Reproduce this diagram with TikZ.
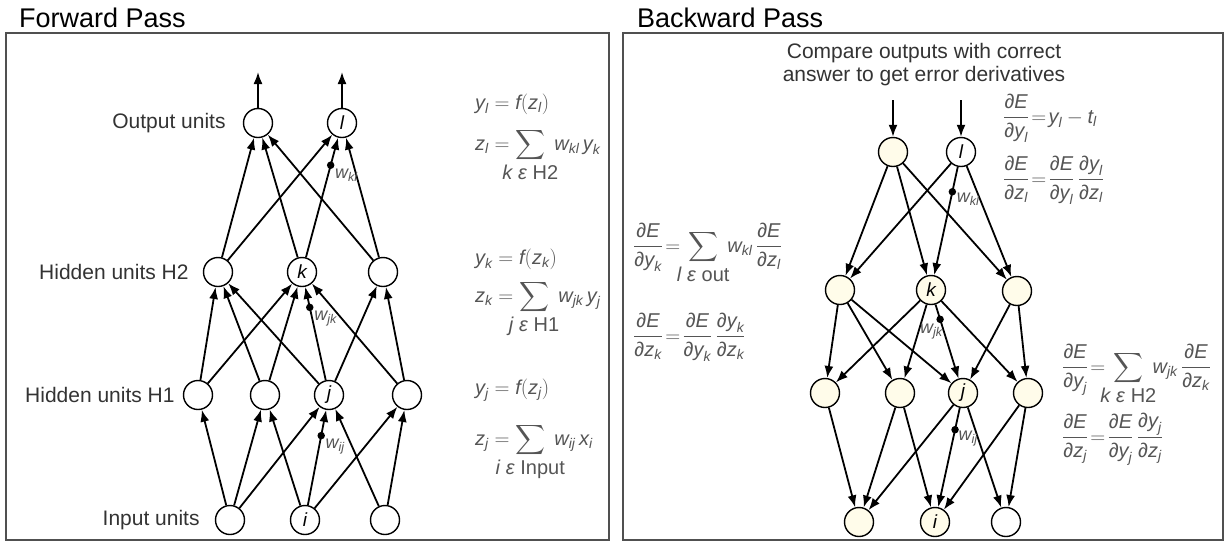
\documentclass[tikz,border=0pt]{standalone}
\usepackage{mathtools}
\usepackage{fontspec}
\setmainfont{Liberation Sans}
\usetikzlibrary{arrows.meta,positioning}
\definecolor{lblgrey}{HTML}{333333}
\definecolor{eqgrey}{HTML}{555555}
\definecolor{cream}{HTML}{FFFCEA}
\definecolor{framegrey}{HTML}{505050}
\newcommand\vv[1]{\textit{#1}}
\newcommand\pd{\textup{∂}}
\newcommand\sv[2]{\vv{#1}_{\vv{#2}}}
\newcommand\dE[2]{\dfrac{\pd\vv{E}}{\pd\sv{#1}{#2}}}
\newcommand\dyz[1]{\dfrac{\pd\sv{y}{#1}}{\pd\sv{z}{#1}}}
\newcommand\lsum[1]{\sum\limits_{\mathclap{\textstyle #1}}}
\newcommand\teq{\!=\!}
\begin{document}
\begin{tikzpicture}[x=1pt,y=-1pt,
  unit/.style={draw,circle,line width=1.4pt,minimum size=29pt,inner sep=0pt,fill=white,font=\fontsize{19}{22}\selectfont\itshape},
  bunit/.style={unit,fill=cream},
  arr/.style={-{Latex[length=12pt,width=9pt]},line width=1.8pt},
  lbl/.style={text=lblgrey,font=\fontsize{21}{23}\selectfont,inner sep=0pt},
  eq/.style={text=eqgrey,font=\fontsize{20}{24}\selectfont,anchor=base west,inner sep=0pt},
  title/.style={font=\fontsize{27}{30}\selectfont,anchor=base west,inner sep=0pt},
  wdot/.style={circle,fill=black,inner sep=0pt,minimum size=7.5pt},
  wlab/.style={text=eqgrey,font=\fontsize{18}{21}\selectfont,inner sep=0pt},
  frame/.style={draw=framegrey,line width=1.3pt}
]
\useasboundingbox (0,0) rectangle (1225,542);

\node[title] (tf) at (19,27) {Forward Pass};
\draw[frame] (6,33) rectangle (609,540);

\node[unit] (o1) at (258,123) {};
\node[unit] (ol) at (342,123) {l};
\node[unit] (h21) at (218,272) {};
\node[unit] (hk) at (302,272) {k};
\node[unit] (h23) at (383,272) {};
\node[unit] (h11) at (198,395) {};
\node[unit] (h12) at (265,395) {};
\node[unit] (hj) at (329,395) {j};
\node[unit] (h14) at (407,395) {};
\node[unit] (in1) at (230,520) {};
\node[unit] (ini) at (305,520) {i};
\node[unit] (in3) at (385,520) {};

\node[lbl,left=17pt of o1] (lout) {Output units};
\node[lbl,left=14pt of h21] (lh2) {Hidden units H2};
\node[lbl,left=8pt of h11] (lh1) {Hidden units H1};
\node[lbl,left=15pt of in1] (lin) {Input units};

\coordinate (u1) at (258,72); \coordinate (u2) at (342,72);
\draw[arr] (o1)--(u1); \draw[arr] (ol)--(u2);
\draw[arr] (h21)--(o1); \draw[arr] (h21)--(ol); \draw[arr] (hk)--(o1);
\draw[arr] (hk)-- node[wdot,pos=.77] (dkl) {} (ol); \draw[arr] (h23)--(o1); \draw[arr] (h23)--(ol);
\draw[arr] (h11)--(h21); \draw[arr] (h11)--(hk); \draw[arr] (h12)--(h21); \draw[arr] (h12)--(hk);
\draw[arr] (hj)--(h21); \draw[arr] (hj)-- node[wdot,pos=.78] (djk) {} (hk); \draw[arr] (hj)--(h23);
\draw[arr] (h14)--(hk); \draw[arr] (h14)--(h23);
\draw[arr] (in1)--(h11); \draw[arr] (in1)--(h12); \draw[arr] (in1)--(hj);
\draw[arr] (ini)--(h12); \draw[arr] (ini)-- node[wdot,pos=.73] (dij) {} (hj); \draw[arr] (ini)--(h14);
\draw[arr] (in3)--(hj); \draw[arr] (in3)--(h14);
\node[wlab,below right=0pt and 1pt of dkl] (wkl) {$\sv{w}{kl}$};
\node[wlab,below right=0pt and 1pt of djk] (wjk) {$\sv{w}{jk}$};
\node[wlab,below right=0pt and 1pt of dij] (wij) {$\sv{w}{ij}$};

\node[eq] (f1) at (475,109) {$\sv{y}{l} = \vv{f}(\sv{z}{l})$};
\node[eq] (f2) at (475,150) {$\displaystyle \sv{z}{l} = \lsum{\vv{k}\;\vv{ε}\;\textup{H2}}\; \sv{w}{kl}\,\sv{y}{k}$};
\node[eq] (f3) at (475,264) {$\sv{y}{k} = \vv{f}(\sv{z}{k})$};
\node[eq] (f4) at (475,302) {$\displaystyle \sv{z}{k} = \lsum{\vv{j}\;\vv{ε}\;\textup{H1}}\; \sv{w}{jk}\,\sv{y}{j}$};
\node[eq] (f5) at (475,394) {$\sv{y}{j} = \vv{f}(\sv{z}{j})$};
\node[eq] (f6) at (475,445) {$\displaystyle \sv{z}{j} = \lsum{\vv{i}\;\vv{ε}\;\textup{Input}}\; \sv{w}{ij}\,\sv{x}{i}$};

\node[title] (tb) at (637,27) {Backward Pass};
\draw[frame] (623,33) rectangle (1223,540);
\node[lbl,align=center] (cmp) at (924,65) {Compare outputs with correct\\answer to get error derivatives};

\node[bunit] (bo1) at (893,152) {};
\node[bunit,fill=white] (bol) at (961,152) {l};
\node[bunit] (b21) at (840,290) {};
\node[bunit] (bk) at (931,290) {k};
\node[bunit] (b23) at (1017,291) {};
\node[bunit] (b11) at (825,393) {};
\node[bunit] (b12) at (900,393) {};
\node[bunit] (bj) at (963,393) {j};
\node[bunit] (b14) at (1028,393) {};
\node[bunit] (bi1) at (859,522) {};
\node[bunit] (bii) at (935,522) {i};
\node[bunit,fill=white] (bi3) at (1006,522) {};

\coordinate (e1) at (893,100); \coordinate (e2) at (961,100);
\draw[arr] (e1)--(bo1); \draw[arr] (e2)--(bol);
\draw[arr] (bo1)--(b21); \draw[arr] (bo1)--(bk); \draw[arr] (bo1)--(b23);
\draw[arr] (bol)--(b21); \draw[arr] (bol)-- node[wdot,pos=.23] (bdkl) {} (bk); \draw[arr] (bol)--(b23);
\draw[arr] (b21)--(b11); \draw[arr] (bk)--(b11); \draw[arr] (b21)--(b12); \draw[arr] (bk)--(b12);
\draw[arr] (b21)--(bj); \draw[arr] (bk)-- node[wdot,pos=.2] (bdjk) {} (bj); \draw[arr] (b23)--(bj);
\draw[arr] (bk)--(b14); \draw[arr] (b23)--(b14);
\draw[arr] (b11)--(bi1); \draw[arr] (b12)--(bi1); \draw[arr] (bj)--(bi1);
\draw[arr] (b12)--(bii); \draw[arr] (bj)-- node[wdot,pos=.22] (bdij) {} (bii); \draw[arr] (b14)--(bii);
\draw[arr] (bj)--(bi3); \draw[arr] (b14)--(bi3);
\node[wlab,below right=-2pt and 1pt of bdkl] (bwkl) {$\sv{w}{kl}$};
\node[wlab,below left=1pt and -6pt of bdjk] (bwjk) {$\sv{w}{jk}$};
\node[wlab,below right=-2pt and 0pt of bdij] (bwij) {$\sv{w}{ij}$};

\node[eq] (r1) at (1003,123) {$\displaystyle \dE{y}{l} \teq \sv{y}{l} - \sv{t}{l}$};
\node[eq] (r2) at (1003,185) {$\displaystyle \dE{z}{l} \teq \dE{y}{l}\,\dyz{l}$};
\node[eq] (r3) at (633,252) {$\displaystyle \dE{y}{k} \teq \;\lsum{\vv{l}\;\vv{ε}\;\textup{out}}\; \sv{w}{kl}\,\dE{z}{l}$};
\node[eq] (r4) at (633,342) {$\displaystyle \dE{z}{k} \teq \dE{y}{k}\,\dyz{k}$};
\node[eq] (r5) at (1062,373) {$\displaystyle \dE{y}{j} \teq \;\lsum{\vv{k}\;\vv{ε}\;\textup{H2}}\; \sv{w}{jk}\,\dE{z}{k}$};
\node[eq] (r6) at (1062,443) {$\displaystyle \dE{z}{j} \teq \dE{y}{j}\,\dyz{j}$};
\end{tikzpicture}
\end{document}
